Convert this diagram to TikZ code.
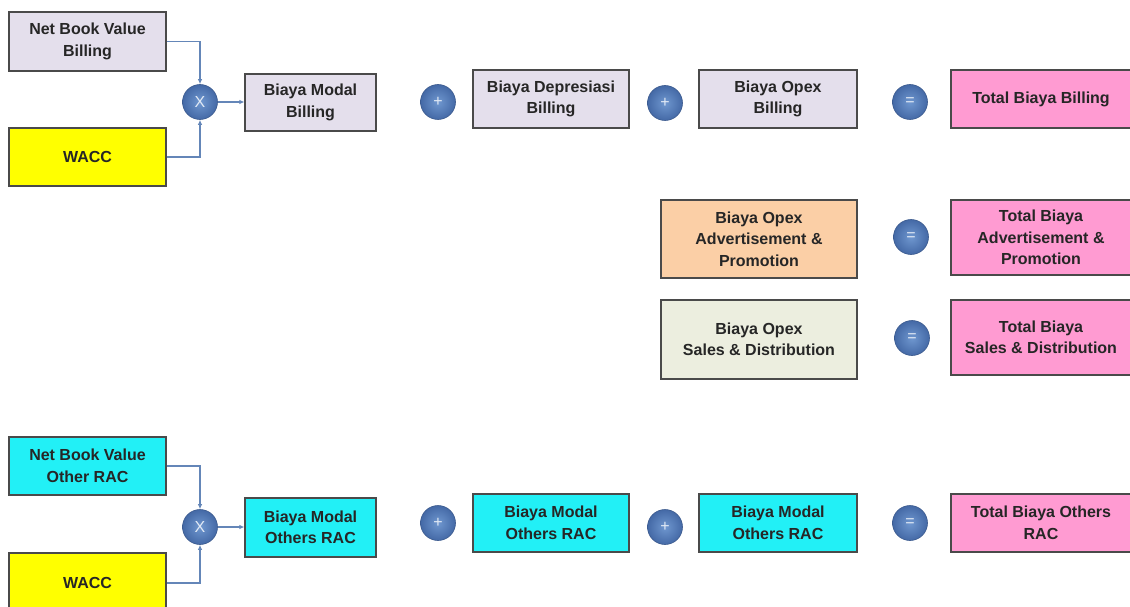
\documentclass[tikz,border=0pt]{standalone}
\usepackage{fontspec}
\setmainfont{Liberation Sans}
\usetikzlibrary{arrows.meta}
\definecolor{lav}{HTML}{E4DFEC}
\definecolor{ylw}{HTML}{FFFF00}
\definecolor{cyn}{HTML}{22F0F6}
\definecolor{pnk}{HTML}{FF9BD2}
\definecolor{pch}{HTML}{FBCFA6}
\definecolor{sage}{HTML}{ECEEDF}
\definecolor{edge}{HTML}{4A4A4A}
\definecolor{link}{HTML}{6486B8}
\definecolor{opin}{HTML}{6F97CF}
\definecolor{opout}{HTML}{4469A6}
\tikzset{
  box/.style={draw=edge, line width=1.2pt, align=center, inner sep=2pt,
    font=\bfseries\fontsize{16}{21.5}\selectfont, text=black!85},
  op/.style={circle, minimum size=35pt, inner sep=0pt, draw=opout!85!black, line width=0.6pt,
    inner color=opin, outer color=opout, text=white!80!opin,
    font=\fontsize{16}{16}\selectfont},
  link/.style={draw=link, line width=1.4pt},
  arr/.style={link, -{Latex[length=5pt,width=4.5pt]}}
}
\begin{document}
\begin{tikzpicture}[x=1pt, y=-1pt]
\useasboundingbox (0,0) rectangle (1130,607);

% Billing chain
\node[box, fill=lav, minimum width=157pt, minimum height=59pt] (nbvb) at (87.5,41.5) {Net Book Value\\Billing};
\node[box, fill=ylw, minimum width=157pt, minimum height=58pt] (waccb) at (87.5,157) {WACC};
\node[op] (xb) at (200,102) {X};
\node[box, fill=lav, minimum width=131pt, minimum height=57pt] (modb) at (310.5,102.5) {Biaya Modal\\Billing};
\node[op] (p1b) at (438,102) {+};
\node[box, fill=lav, minimum width=156pt, minimum height=58pt] (depb) at (551,99) {Biaya Depresiasi\\Billing};
\node[op] (p2b) at (665,103) {+};
\node[box, fill=lav, minimum width=158pt, minimum height=58pt] (opxb) at (778,99) {Biaya Opex\\Billing};
\node[op] (eqb) at (910,102) {=};
\node[box, fill=pnk, minimum width=180pt, minimum height=58pt] (totb) at (1041,99) {Total Biaya Billing};

\draw[arr] (nbvb.east) -| (xb.north);
\draw[arr] (waccb.east) -| (xb.south);
\draw[arr] (xb.east) -- (xb.east -| modb.west);

% Advertisement & Promotion
\node[box, fill=pch, minimum width=196pt, minimum height=78pt] (opxa) at (759,239) {Biaya Opex\\Advertisement \&\\Promotion};
\node[op] (eqa) at (911,237) {=};
\node[box, fill=pnk, minimum width=180pt, minimum height=75pt] (tota) at (1041,237.5) {Total Biaya\\Advertisement \&\\Promotion};

% Sales & Distribution
\node[box, fill=sage, minimum width=196pt, minimum height=79pt] (opxs) at (759,339.5) {Biaya Opex\\Sales \& Distribution};
\node[op] (eqs) at (912,338) {=};
\node[box, fill=pnk, minimum width=180pt, minimum height=75pt] (tots) at (1041,337.5) {Total Biaya\\Sales \& Distribution};

% Others RAC chain
\node[box, fill=cyn, minimum width=157pt, minimum height=58pt] (nbvr) at (87.5,466) {Net Book Value\\Other RAC};
\node[box, fill=ylw, minimum width=157pt, minimum height=60pt] (waccr) at (87.5,583) {WACC};
\node[op] (xr) at (200,527) {X};
\node[box, fill=cyn, minimum width=131pt, minimum height=59pt] (modr) at (310.5,527.5) {Biaya Modal\\Others RAC};
\node[op] (p1r) at (438,523) {+};
\node[box, fill=cyn, minimum width=156pt, minimum height=58pt] (mod2r) at (551,523) {Biaya Modal\\Others RAC};
\node[op] (p2r) at (665,527) {+};
\node[box, fill=cyn, minimum width=158pt, minimum height=58pt] (mod3r) at (778,523) {Biaya Modal\\Others RAC};
\node[op] (eqr) at (910,523) {=};
\node[box, fill=pnk, minimum width=180pt, minimum height=58pt] (totr) at (1041,523) {Total Biaya Others\\RAC};

\draw[arr] (nbvr.east) -| (xr.north);
\draw[arr] (waccr.east) -| (xr.south);
\draw[arr] (xr.east) -- (xr.east -| modr.west);
\end{tikzpicture}
\end{document}
